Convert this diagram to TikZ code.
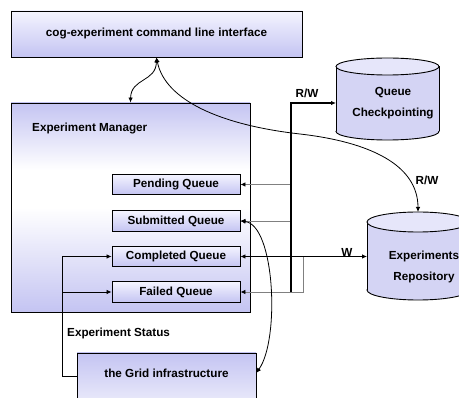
\documentclass[tikz,border=0pt]{standalone}
\usepackage{fontspec}
\setmainfont{Liberation Sans}
\usetikzlibrary{arrows.meta}
\definecolor{lav}{HTML}{C4C4F2}
\definecolor{lavlight}{HTML}{F4F4FF}
\definecolor{cylbody}{HTML}{D4D4F4}
\definecolor{cyltop}{HTML}{E6E6FA}
\pgfdeclareverticalshading{emshade}{100bp}{color(0bp)=(lav); color(25bp)=(lav); color(50bp)=(white); color(59bp)=(white); color(75bp)=(lav); color(100bp)=(lav)}
\begin{document}
\begin{tikzpicture}[x=1pt,y=-1pt,
  font=\fontsize{11.7}{21}\selectfont\bfseries,
  >={Latex[length=5pt,width=4.5pt]},
  box/.style={draw=black, line width=0.9pt, inner sep=0pt},
  qbox/.style={box, minimum width=128pt, minimum height=20.5pt, top color=lavlight, bottom color=lav},
  conn/.style={line width=0.8pt, draw=black},
  greyconn/.style={line width=0.8pt, draw=black!50, -{Latex[length=5pt,width=4.5pt,color=black]}},
  trunk/.style={line width=2pt, draw=black},
  lbl/.style={inner sep=0pt}]
\useasboundingbox (0,0) rectangle (459,398);
\clip (0,0) rectangle (459,398);

% boxes
\node[box, top color=lavlight, bottom color=lav, minimum width=291pt, minimum height=46pt] (cli) at (156.5,34) {cog-experiment command line interface};
\node[box, shading=emshade, minimum width=239pt, minimum height=209pt] (em) at (130.5,207.5) {};
\node[lbl, anchor=west] (emlabel) at (32,129) {Experiment Manager};

\node[qbox] (pq) at (176,184.5) {Pending Queue};
\node[qbox] (sq) at (176,221) {Submitted Queue};
\node[qbox] (cq) at (176,256.5) {Completed Queue};
\node[qbox] (fq) at (176,292) {Failed Queue};

\shade[top color=lav, bottom color=white, draw=black, line width=0.9pt] (77,353) rectangle (256,430);
\node[minimum width=179pt, minimum height=30pt, inner sep=0pt] (grid) at (166.5,373) {the Grid infrastructure};

% cylinder: Queue Checkpointing
\filldraw[fill=cylbody, line width=0.9pt] (387.5,131.5) ellipse (51.5 and 8.5);
\fill[cylbody] (336,66.5) rectangle (439,131.5);
\draw[line width=0.9pt] (336,66.5) -- (336,131.5) (439,66.5) -- (439,131.5);
\filldraw[fill=cyltop, line width=0.9pt] (387.5,66.5) ellipse (51.5 and 8.5);
\node[lbl, align=center] (qc) at (393,103) {Queue\\Checkpointing};
\coordinate (qcin) at (336,103);

% cylinder: Experiments Repository
\filldraw[fill=cylbody, line width=0.9pt] (418,290) ellipse (51 and 10);
\fill[cylbody] (367,222) rectangle (469,290);
\draw[line width=0.9pt] (367,222) -- (367,290) (469,222) -- (469,290);
\filldraw[fill=cyltop, line width=0.9pt] (418,222) ellipse (51 and 10);
\node[lbl, align=center] (repo) at (424,267) {Experiments\\Repository};
\coordinate (repoin) at (367,256.5);
\coordinate (repotop) at (418,212);

% connectors
\draw[conn, <->] (em.north) .. controls (131,78) and (156,82) .. (cli.south);
\draw[conn, <->] (cli.south) .. controls (165,100) and (220,125) .. (300,134) .. controls (370,142) and (418,165) .. (repotop);

\coordinate (trunkbot) at (291,292);
\coordinate (trunktop) at (291,103);
\draw[greyconn] (trunktop |- pq.east) -- (pq.east);
\draw[greyconn] (trunktop |- sq.east) -- (sq.east);
\coordinate (jog) at (303,256.5);
\draw[greyconn] (jog) -- (jog |- fq.east) -- (fq.east);
\draw[conn, <->] (cq.east) -- (repoin);
\draw[trunk, ->] (trunkbot) -- (trunktop) -- (qcin);

\draw[conn, <->] (sq.east) .. controls (275,225) and (280,340) .. (grid.east);

\coordinate (esx) at (62,376);
\draw[conn, ->] (grid.west |- esx) -- (esx) -- (esx |- cq.west) -- (cq.west);
\draw[conn, ->] (esx |- fq.west) -- (fq.west);

% labels
\node[lbl] (rw1) at (307,93) {R/W};
\node[lbl] (rw2) at (427,180) {R/W};
\node[lbl] (w) at (347,252) {W};
\node[lbl, anchor=west] (es) at (67,333) {Experiment Status};
\end{tikzpicture}
\end{document}
